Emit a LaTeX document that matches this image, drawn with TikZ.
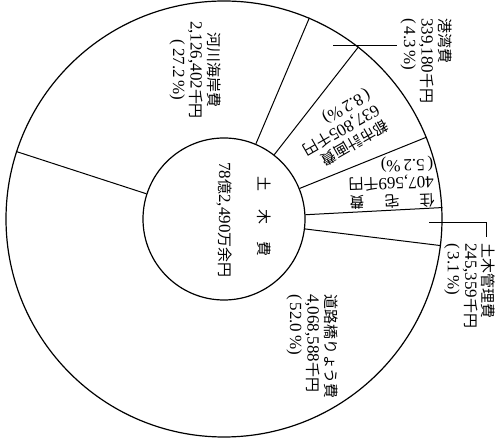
\documentclass[tikz,border=0pt]{standalone}
\usepackage{fontspec}
\setmainfont{Liberation Serif}
\newfontfamily\jpfont[Scale=0.88]{Noto Sans CJK JP}
\newcommand\J[1]{{\jpfont #1}}
\usetikzlibrary{calc}
\begin{document}
\begin{tikzpicture}[x=1pt,y=1pt,
  ring/.style={draw, circle, line width=1.2pt, inner sep=0pt},
  div/.style={line width=1pt},
  lead/.style={line width=1pt},
  lab/.style={inner sep=0pt, font=\fontsize{17}{17.5}\selectfont, align=left}]
\useasboundingbox (0,0) rectangle (496,439);
\fill[white] (0,0) rectangle (496,439);
\coordinate (C) at (224,220);
\node[ring, minimum size=436pt] (outer) at (C) {};
\node[ring, minimum size=162pt] (inner) at (C) {};
\foreach \a in {162,67.8,52.1,22.4,3.2,-7.4}
  \draw[div] (inner.\a) -- (outer.\a);
% leaders
\coordinate (p1) at (333,393);
\coordinate (p2) at (397,393);
\draw[lead] (p1) -- (p2);
\coordinate (q1) at (429,216);
\coordinate (q2) at (486,216);
\coordinate (q3) at (486,202);
\draw[lead] (q1) -- (q2) -- (q3);
% labels
\node[lab, rotate=-90, align=center] (kasen) at (195,369)
  {\J{河川海岸費}\\2,126,402\J{千円}\\(\,27.2\,\%)};
\node[lab, rotate=-90, anchor=west] (kowan) at (426,421)
  {\J{港湾費}\\339,180\J{千円}\\(\,4.3\,\%)};
\node[lab, rotate=210, anchor=west] (toshi) at (378,331)
  {\J{都市計画費}\\637,805\J{千円}\\(\,8.2\,\%)};
\node[lab, rotate=182, anchor=west] (jutaku) at (434,258)
  {\J{住}\hspace{20pt}\J{宅}\hspace{20pt}\J{費}\\407,569\J{千円}\\(\,5.2\,\%)};
\node[lab, rotate=-90, anchor=west] (kanri) at (470,196)
  {\J{土木管理費}\\245,359\J{千円}\\(\,3.1\,\%)};
\node[lab, rotate=-90, anchor=west] (doro) at (312,145)
  {\J{道路橋りょう費}\\4,068,588\J{千円}\\(\,52.0\,\%)};
\node[lab, rotate=-90] (doboku) at (264,222.5)
  {\J{土}\hspace{18pt}\J{木}\hspace{18pt}\J{費}};
\node[lab, rotate=-90] (total) at (224,219)
  {78\J{億}2,490\J{万余円}};
\end{tikzpicture}
\end{document}
